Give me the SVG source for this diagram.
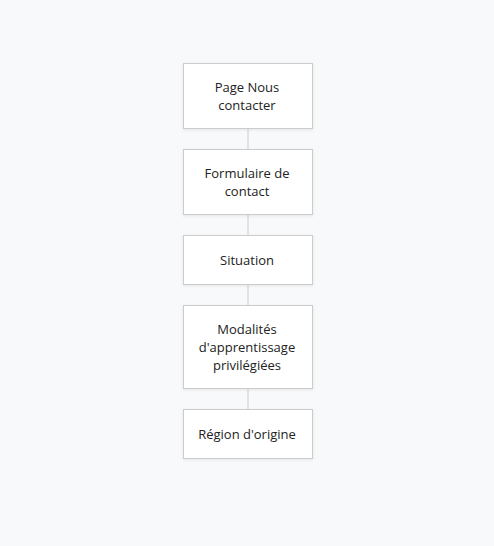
<svg xmlns="http://www.w3.org/2000/svg" width="494" height="546" viewBox="0 0 494 546">
<style>
.bg{fill:#f8f9fb}
.node rect{fill:#ffffff;stroke:#cccccc;stroke-width:1;filter:url(#sh)}
.node text{font-family:"Open Sans",sans-serif;font-size:13px;fill:#222222;text-anchor:middle}
.edges line{stroke:#cccccc;stroke-width:1}
</style>
<defs>
<filter id="sh" x="-10%" y="-10%" width="120%" height="130%">
<feDropShadow dx="0" dy="1" stdDeviation="1.5" flood-color="#000" flood-opacity="0.08"/>
</filter>
</defs>
<rect class="bg" x="0" y="0" width="494" height="546"/>
<g class="edges">
<line x1="248" y1="128.5" x2="248" y2="149.5"/>
<line x1="248" y1="214.5" x2="248" y2="235.5"/>
<line x1="248" y1="284.5" x2="248" y2="305.5"/>
<line x1="248" y1="388.5" x2="248" y2="409.5"/>
</g>
<g id="n1" class="node"><rect x="183.5" y="63.5" width="129" height="65"/>
<text x="247" y="92">Page Nous</text><text x="247" y="110">contacter</text></g>
<g id="n2" class="node"><rect x="183.5" y="149.5" width="129" height="65"/>
<text x="247" y="178">Formulaire de</text><text x="247" y="196">contact</text></g>
<g id="n3" class="node"><rect x="183.5" y="235.5" width="129" height="49"/>
<text x="247" y="265">Situation</text></g>
<g id="n4" class="node"><rect x="183.5" y="305.5" width="129" height="83"/>
<text x="247" y="334">Modalités</text><text x="247" y="352">d'apprentissage</text><text x="247" y="370">privilégiées</text></g>
<g id="n5" class="node"><rect x="183.5" y="409.5" width="129" height="49"/>
<text x="247" y="439">Région d'origine</text></g>
</svg>
